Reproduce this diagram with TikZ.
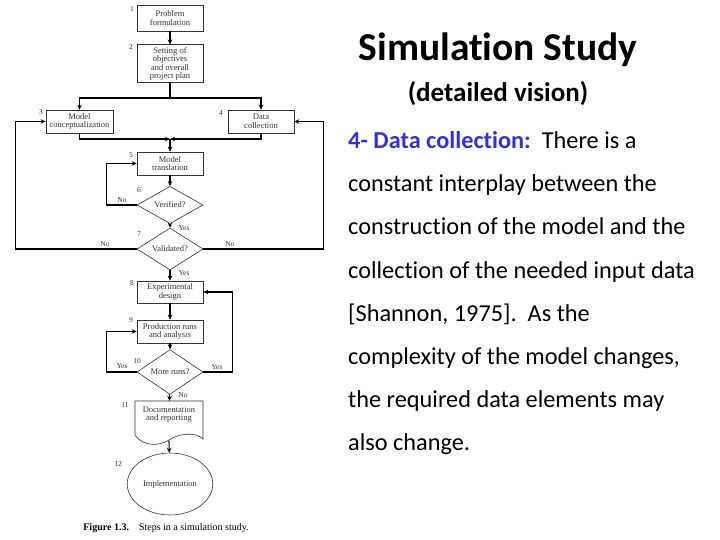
\documentclass[tikz,border=0pt]{standalone}
\usepackage{fontspec}
\setmainfont{Carlito}[Ligatures=NoCommon, Contextuals=NoAlternate]
\newfontfamily\figfont{Liberation Serif}
\usetikzlibrary{arrows.meta,shapes.geometric}
\definecolor{headblue}{RGB}{51,51,204}
\tikzset{
  stepbox/.style={draw=black!80, line width=0.6pt, minimum width=66pt, minimum height=23pt, inner sep=1pt, align=center, text=black!80, font=\figfont\fontsize{8.5}{8.5}\selectfont},
  decision/.style={diamond, draw=black!80, line width=0.6pt, minimum width=66pt, minimum height=30pt, inner sep=0pt, text=black!80, font=\figfont\fontsize{8.5}{9}\selectfont},
  flow/.style={line width=1.1pt, -{Stealth[length=5pt,width=4.5pt]}},
  link/.style={line width=1.1pt},
  tag/.style={text=black!80, font=\figfont\fontsize{7.5}{8}\selectfont, inner sep=0pt},
}
\begin{document}
\begin{tikzpicture}[x=1pt,y=-1pt]
\useasboundingbox (0,0) rectangle (720,540);
\node[stepbox, minimum height=26pt] (s1) at (170,18) {Problem\\formulation};
\node[stepbox, minimum height=38pt, line width=1pt] (s2) at (170,64) {Setting of\\objectives\\and overall\\project plan};
\node[stepbox, minimum width=67pt] (s3) at (79.5,121.5) {Model\\conceptualization};
\node[stepbox] (s4) at (261,121.5) {Data\\collection};
\node[stepbox] (s5) at (170,163.5) {Model\\translation};
\node[decision] (d6) at (170,205) {Verified?};
\node[decision, minimum height=32pt] (d7) at (170,249) {Validated?};
\node[stepbox, minimum height=22pt] (s8) at (170,292) {Experimental\\design};
\node[stepbox] (s9) at (170,331.5) {Production runs\\and analysis};
\node[decision, minimum height=28pt] (d10) at (170,372) {More runs?};
\node[stepbox, draw=none, minimum width=68pt, minimum height=39pt, anchor=north] (s11) at (169,401) {Documentation\\and reporting\\[6pt]};
\draw[draw=black!80, line width=0.6pt] (135,435) -- (135,401) -- (203,401) -- (203,439)
  .. controls (195,431) and (178,434) .. (169,440) .. controls (160,446) and (143,447) .. (135,435);
\node[ellipse, draw=black!80, line width=0.6pt, minimum width=69pt, minimum height=62pt, text=black!80, font=\figfont\fontsize{8.5}{9}\selectfont] (e12) at (170,484) {Implementation};
\foreach \n/\x/\y in {1/132/9, 2/131/47, 3/41/112, 4/221/113, 5/131/155, 6/139/190, 7/139/234, 8/132/283, 9/131/320, 10/137/361, 11/125/405, 12/118/464}
  \node[tag] (num\n) at (\x,\y) {\n};
\coordinate (split) at (170,98);
\coordinate (merge) at (170,139);
\draw[flow] (s1) -- (s2);
\draw[link] (s2) -- (split);
\draw[flow] (split) -| (s3);
\draw[flow] (split) -| (s4);
\draw[flow] (s3) |- (merge);
\draw[flow] (s4) |- (merge);
\draw[flow] (merge) -- (s5);
\draw[flow] (s5) -- (d6);
\draw[flow] (d6.west) -- ++(-30,0) |- (s5);
\draw[flow] (d6) -- (d7);
\draw[flow] (d7.west) -- ++(-121,0) |- (s3);
\draw[flow] (d7.east) -- ++(120,0) |- (s4);
\draw[flow] (d7) -- (s8);
\draw[flow] (s8) -- (s9);
\draw[flow] (s9) -- (d10);
\draw[flow] (d10.west) -- ++(-30,0) |- (s9);
\draw[flow] (d10.east) -- ++(29,0) |- (s8);
\draw[flow] (d10) -- (s11);
\draw[flow] (s11.south) -- (e12);
\node[tag] (no6) at (122,200) {No};
\node[tag] (yes6) at (184,228) {Yes};
\node[tag] (no7l) at (105,244) {No};
\node[tag] (no7r) at (230,244) {No};
\node[tag] (yes7) at (184,273) {Yes};
\node[tag] (yes10l) at (122,366) {Yes};
\node[tag] (yes10r) at (217,367) {Yes};
\node[tag] (no10) at (183,395) {No};
\node[font=\figfont\fontsize{10}{10}\selectfont] (caption) at (166,528) {\textbf{Figure 1.3.}\quad Steps in a simulation study.};
\node (title) at (498,50) {\fontsize{39.5}{40}\selectfont\bfseries Simulation Study};
\node (subtitle) at (498,94) {\fontsize{27}{28}\selectfont\bfseries (detailed vision)};
\foreach \t [count=\i] in {{\textcolor{headblue}{\bfseries 4- Data collection:}\ \ There is a},
  constant interplay between the, construction of the model and the,
  collection of the needed input data, {[Shannon, 1975].\ \ As the},
  {complexity of the model changes,}, the required data elements may, also change.}
  \node[anchor=base west, inner sep=0pt, font=\fontsize{24.3}{30}\selectfont] (line\i) at (348,{106+43*\i}) {\t};
\end{tikzpicture}
\end{document}
